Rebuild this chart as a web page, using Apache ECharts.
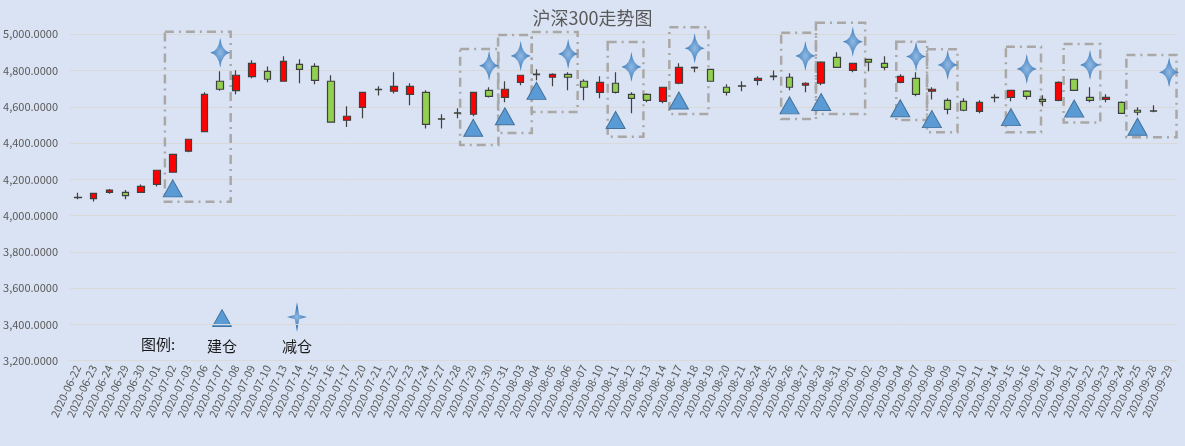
<!DOCTYPE html>
<html>
<head>
<meta charset="utf-8">
<script src="https://cdn.jsdelivr.net/npm/echarts@6/dist/echarts.min.js"></script>
<style>
  html, body { margin: 0; padding: 0; background: #dae3f3; }
  #chart { width: 1185px; height: 446px; }
</style>
</head>
<body>
<div id="chart"></div>
<script>
// trading days on the x axis (09-29 has no candle)
var dates = [
  '2020-06-22','2020-06-23','2020-06-24','2020-06-29','2020-06-30','2020-07-01','2020-07-02','2020-07-03',
  '2020-07-06','2020-07-07','2020-07-08','2020-07-09','2020-07-10','2020-07-13','2020-07-14','2020-07-15',
  '2020-07-16','2020-07-17','2020-07-20','2020-07-21','2020-07-22','2020-07-23','2020-07-24','2020-07-27',
  '2020-07-28','2020-07-29','2020-07-30','2020-07-31','2020-08-03','2020-08-04','2020-08-05','2020-08-06',
  '2020-08-07','2020-08-10','2020-08-11','2020-08-12','2020-08-13','2020-08-14','2020-08-17','2020-08-18',
  '2020-08-19','2020-08-20','2020-08-21','2020-08-24','2020-08-25','2020-08-26','2020-08-27','2020-08-28',
  '2020-08-31','2020-09-01','2020-09-02','2020-09-03','2020-09-04','2020-09-07','2020-09-08','2020-09-09',
  '2020-09-10','2020-09-11','2020-09-14','2020-09-15','2020-09-16','2020-09-17','2020-09-18','2020-09-21',
  '2020-09-22','2020-09-23','2020-09-24','2020-09-25','2020-09-28','2020-09-29'
];

var opens = [
  4100, 4093, 4128, 4128, 4128, 4172, 4239, 4355, 4463, 4741, 4689, 4766, 4796, 4741, 4834, 4823,
  4741, 4526, 4597, 4696, 4686, 4669, 4680, 4534, 4567, 4559, 4691, 4652, 4735, 4780, 4763, 4779,
  4741, 4680, 4730, 4669, 4669, 4630, 4730, 4814, 4807, 4708, 4716, 4746, 4769, 4763, 4719, 4730,
  4873, 4801, 4862, 4840, 4735, 4757, 4686, 4636, 4630, 4575, 4652, 4652, 4687, 4641, 4636, 4752,
  4652, 4641, 4625, 4581, 4578, null
];
var closes = [
  4099, 4123, 4141, 4110, 4161, 4250, 4338, 4421, 4669, 4697, 4774, 4840, 4752, 4851, 4807, 4746,
  4515, 4548, 4680, 4694, 4713, 4713, 4503, 4532, 4565, 4680, 4658, 4697, 4774, 4778, 4779, 4763,
  4708, 4735, 4680, 4647, 4636, 4708, 4818, 4817, 4741, 4680, 4714, 4757, 4767, 4708, 4730, 4846,
  4818, 4840, 4846, 4818, 4768, 4669, 4697, 4586, 4581, 4625, 4650, 4691, 4658, 4630, 4735, 4691,
  4636, 4652, 4564, 4570, 4576, null
];
var lows = [
  4090, 4077, 4121, 4090, 4128, 4161, 4239, 4349, 4463, 4689, 4669, 4757, 4735, 4741, 4730, 4724,
  4515, 4489, 4537, 4663, 4674, 4608, 4481, 4481, 4537, 4548, 4652, 4625, 4719, 4746, 4713, 4691,
  4636, 4647, 4674, 4564, 4625, 4619, 4724, 4790, 4741, 4663, 4686, 4719, 4746, 4691, 4680, 4719,
  4818, 4790, 4796, 4801, 4730, 4658, 4641, 4559, 4575, 4564, 4625, 4630, 4641, 4603, 4630, 4691,
  4625, 4625, 4564, 4553, 4570, null
];
var highs = [
  4126, 4125, 4147, 4141, 4172, 4252, 4340, 4423, 4680, 4796, 4801, 4857, 4823, 4879, 4862, 4840,
  4774, 4603, 4682, 4713, 4790, 4730, 4691, 4559, 4592, 4682, 4708, 4741, 4776, 4807, 4785, 4790,
  4752, 4768, 4790, 4680, 4675, 4710, 4840, 4822, 4807, 4724, 4741, 4768, 4800, 4785, 4735, 4851,
  4901, 4842, 4864, 4879, 4779, 4790, 4708, 4647, 4647, 4636, 4669, 4693, 4691, 4664, 4741, 4752,
  4708, 4669, 4630, 4597, 4608, null
];

// 建仓 (triangle) and 减仓 (star) marks: category index + price level
var buildIdx = [6, 25, 27, 29, 34, 38, 45, 47, 52, 54, 59, 63, 67];
var buildVal = [4150, 4484, 4548, 4688, 4527, 4635, 4608, 4626, 4592, 4532, 4543, 4590, 4490];
var cutIdx = [9, 26, 28, 31, 35, 39, 46, 49, 53, 55, 60, 64, 69];
var cutVal = [4898, 4827, 4880, 4891, 4820, 4923, 4880, 4959, 4877, 4831, 4809, 4831, 4790];

// dashed highlight boxes: [from, to] in band units, [low, high] in price
var boxFrom = [6.0, 24.67, 27.07, 29.2, 34.0, 37.9, 44.97, 47.17, 52.25, 54.19, 59.18, 62.83, 66.8];
var boxTo   = [10.16, 27.09, 29.2, 32.1, 36.26, 40.37, 47.17, 50.28, 54.2, 56.12, 61.4, 65.15, 69.97];
var boxLow  = [4076, 4389, 4455, 4571, 4435, 4560, 4533, 4560, 4527, 4459, 4459, 4514, 4432];
var boxHigh = [5014, 4919, 4996, 5013, 4957, 5039, 5009, 5064, 4959, 4917, 4932, 4946, 4886];

var yTicks = { min: 3200, max: 5000, step: 200 };

var candleData = dates.map(function (d, i) {
  if (opens[i] == null) return '-';
  return [opens[i], closes[i], lows[i], highs[i]];
});
var buildData = buildIdx.map(function (x, i) { return [x, buildVal[i]]; });
var cutData = cutIdx.map(function (x, i) { return [x, cutVal[i]]; });
var boxData = boxFrom.map(function (x, i) { return [x, boxTo[i], boxLow[i], boxHigh[i]]; });

var cjk = "'Noto Sans CJK SC', 'Noto Sans', sans-serif";
var starPath = 'M0,-15 Q1.6,-1.6 10,0 Q1.6,1.6 0,15 Q-1.6,1.6 -10,0 Q-1.6,-1.6 0,-15 Z';
var starFill = {
  type: 'radial', x: 0.5, y: 0.5, r: 0.5,
  colorStops: [{ offset: 0, color: '#8fb9e3' }, { offset: 1, color: '#3a78b8' }]
};

// legend star outline (straight-edged version of the marker)
function starPoints(cx, cy) {
  return [[0, -15], [2.2, -2.2], [10, 0], [2.2, 2.2], [0, 15], [-2.2, 2.2], [-10, 0], [-2.2, -2.2]]
    .map(function (p) { return [cx + p[0], cy + p[1]]; });
}

var chart = echarts.init(document.getElementById('chart'));

var option = {
  backgroundColor: '#dae3f3',
  animation: false,
  title: {
    text: '沪深300走势图',
    left: 'center',
    top: 4,
    textStyle: { fontFamily: cjk, fontSize: 18, fontWeight: 'normal', color: '#595959' }
  },
  grid: { left: 70, right: 8, top: 34.3, bottom: 85.4, containLabel: false, outerBoundsMode: 'none' },
  xAxis: [
    {
      type: 'category',
      data: dates,
      boundaryGap: true,
      axisLine: { lineStyle: { color: '#d9d9d9' } },
      axisTick: { alignWithLabel: false, length: 5, lineStyle: { color: '#d9d9d9' } },
      axisLabel: {
        rotate: 65, interval: 0, fontSize: 11, margin: 5,
        color: '#595959', fontFamily: cjk
      },
      splitLine: { show: false }
    },
    { type: 'value', min: 0, max: 70, show: false }
  ],
  yAxis: {
    type: 'value',
    min: yTicks.min,
    max: yTicks.max,
    interval: yTicks.step,
    axisLine: { show: false },
    axisTick: { show: false },
    axisLabel: {
      color: '#595959', fontSize: 11, margin: 12, fontFamily: cjk,
      formatter: function (v) {
        return v.toLocaleString('en-US', { minimumFractionDigits: 4, maximumFractionDigits: 4 });
      }
    },
    splitLine: { lineStyle: { color: '#d9d9d9' } }
  },
  series: [
    {
      type: 'custom',
      xAxisIndex: 1,
      z: 1,
      clip: false,
      data: boxData,
      renderItem: function (params, api) {
        var p0 = api.coord([api.value(0), api.value(3)]);
        var p1 = api.coord([api.value(1), api.value(2)]);
        return {
          type: 'rect',
          shape: { x: p0[0], y: p0[1], width: p1[0] - p0[0], height: p1[1] - p0[1] },
          style: { fill: 'none', stroke: '#aaa8a6', lineWidth: 2.5, lineDash: [9, 5, 2, 5] }
        };
      }
    },
    {
      type: 'candlestick',
      data: candleData,
      barWidth: 7,
      z: 3,
      itemStyle: {
        color: '#ff0000',
        color0: '#92d050',
        borderColor: '#404040',
        borderColor0: '#404040',
        borderColorDoji: '#404040',
        borderWidth: 1.2
      }
    },
    {
      type: 'scatter',
      name: '建仓',
      data: buildData,
      symbol: 'triangle',
      symbolSize: [19, 17],
      z: 5,
      itemStyle: { color: '#5b9bd5', borderColor: '#41719c', borderWidth: 1, opacity: 1 }
    },
    {
      type: 'scatter',
      name: '减仓',
      data: cutData,
      symbol: 'path://' + starPath,
      symbolSize: [20, 30],
      z: 5,
      itemStyle: { color: starFill, opacity: 1 }
    }
  ],
  graphic: [
    {
      type: 'text', x: 141, y: 337,
      style: { text: '图例:', fontSize: 15, fill: '#1a1a1a', fontFamily: cjk }
    },
    {
      type: 'polygon',
      shape: { points: [[222, 309.5], [231.5, 326.5], [212.5, 326.5]] },
      style: { fill: '#5b9bd5', stroke: '#41719c', lineWidth: 1 }
    },
    {
      type: 'text', x: 207, y: 339,
      style: { text: '建仓', fontSize: 15, fill: '#1a1a1a', fontFamily: cjk }
    },
    {
      type: 'polygon',
      shape: { points: starPoints(297, 317) },
      style: { fill: starFill }
    },
    {
      type: 'text', x: 282, y: 339,
      style: { text: '减仓', fontSize: 15, fill: '#1a1a1a', fontFamily: cjk }
    }
  ]
};

chart.setOption(option);
</script>
</body>
</html>
